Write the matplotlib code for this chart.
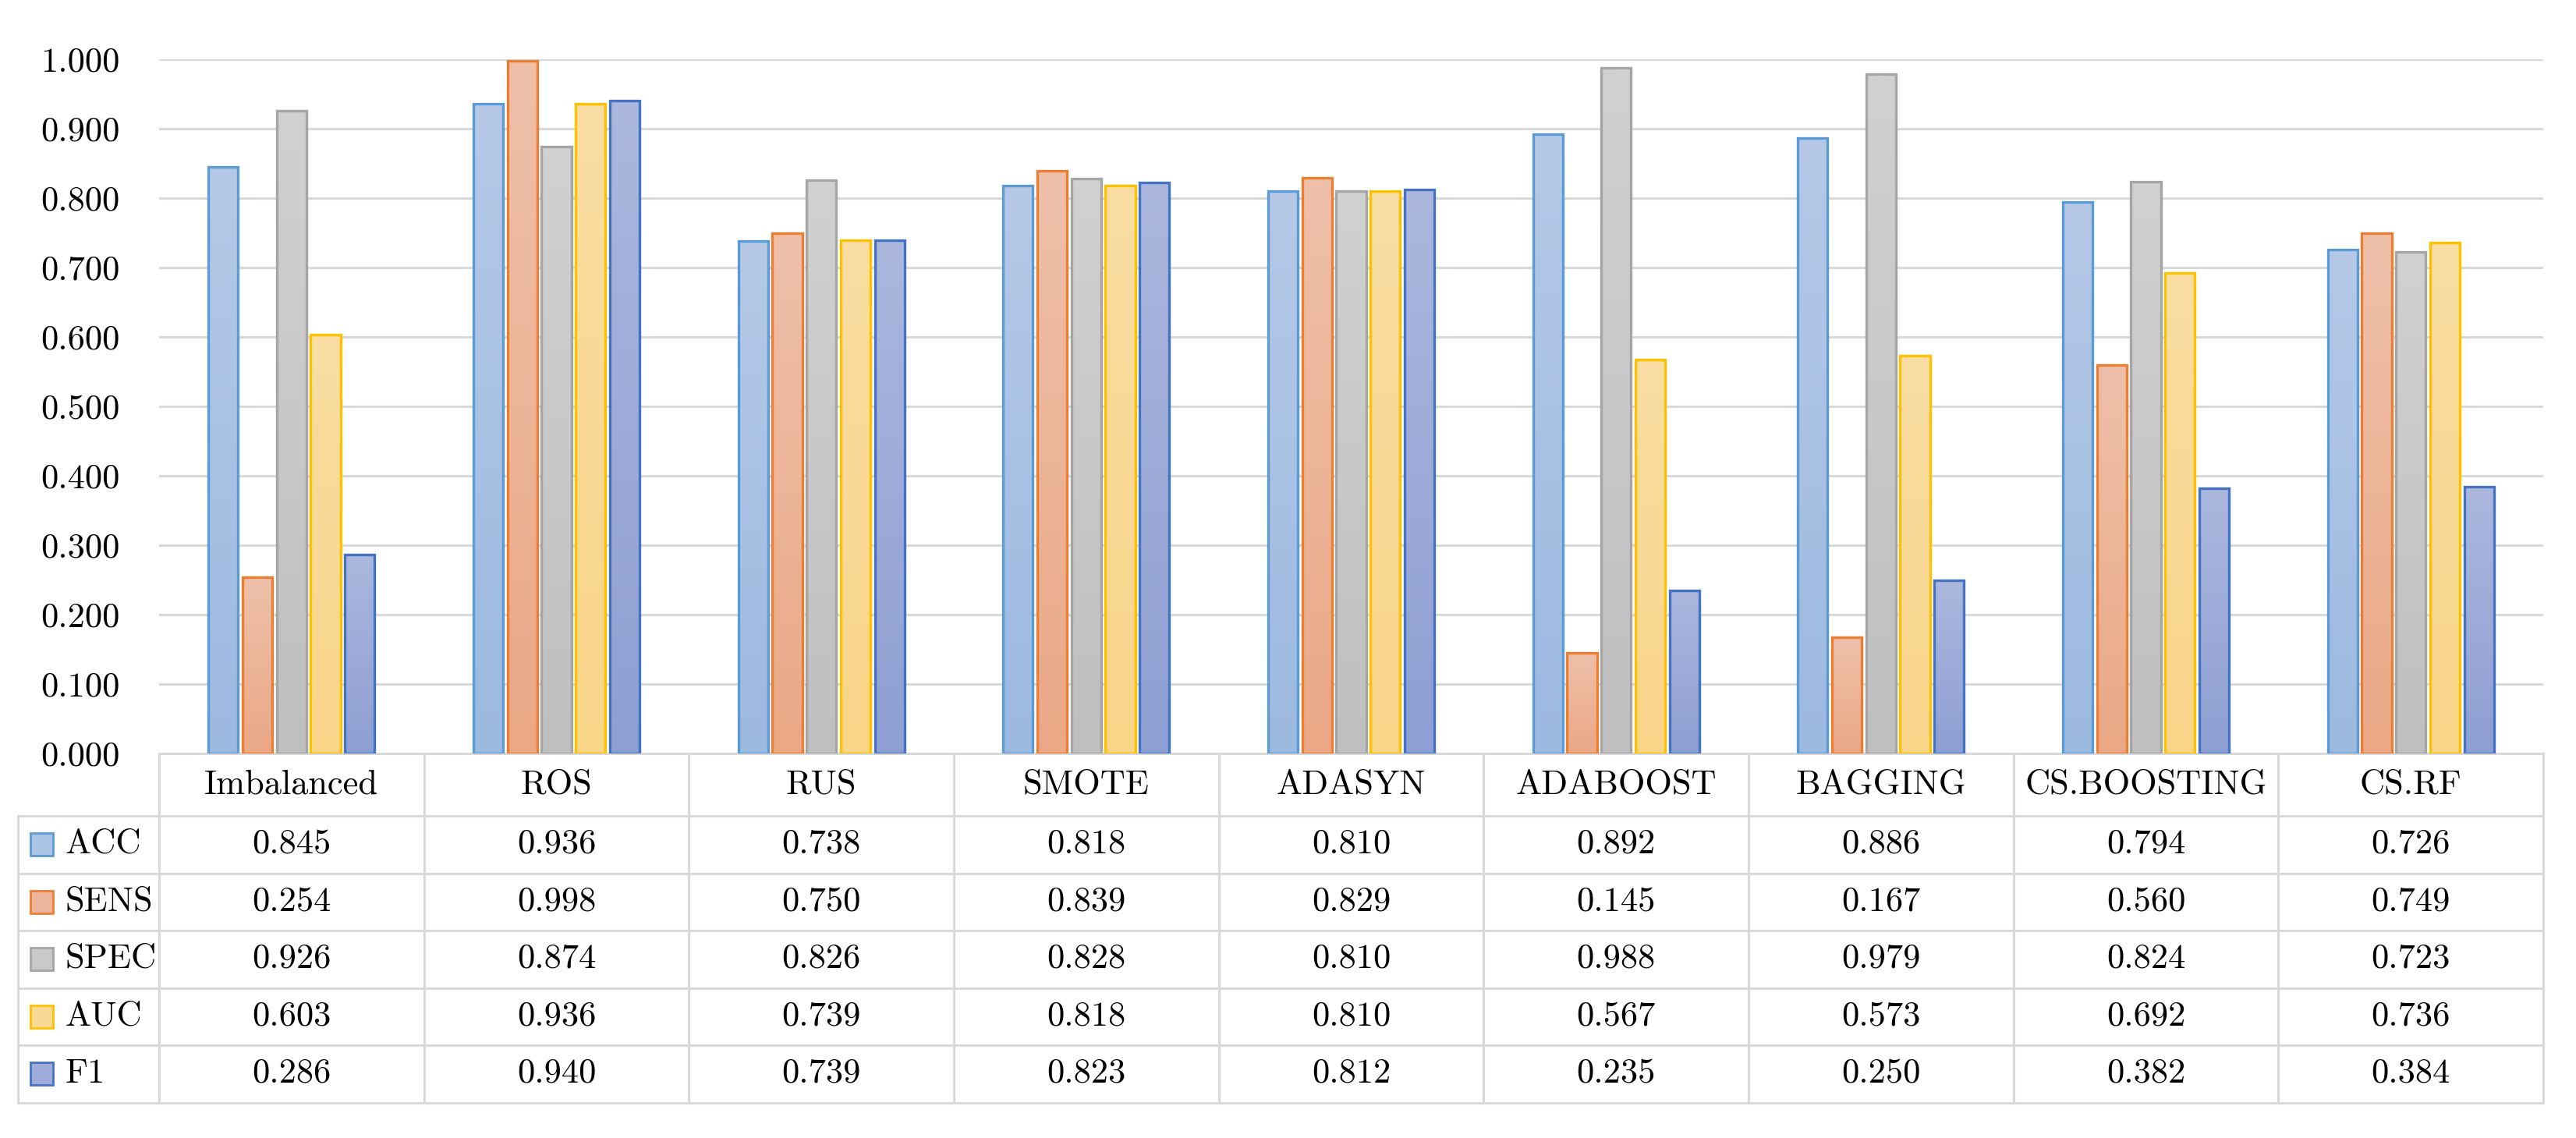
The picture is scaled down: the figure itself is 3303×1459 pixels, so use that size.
import matplotlib
matplotlib.use("Agg")
import matplotlib.pyplot as plt
import numpy as np
from matplotlib.ticker import FormatStrFormatter, MultipleLocator
from matplotlib.patches import Rectangle
from matplotlib.lines import Line2D
from matplotlib.colors import to_rgb

plt.rcParams['font.family'] = ['cmr10', 'DejaVu Serif']
plt.rcParams['axes.formatter.use_mathtext'] = True

categories = ["Imbalanced", "ROS", "RUS", "SMOTE", "ADASYN", "ADABOOST", "BAGGING", "CS.BOOSTING", "CS.RF"]
metrics = ["ACC", "SENS", "SPEC", "AUC", "F1"]
acc  = [0.845, 0.936, 0.738, 0.818, 0.810, 0.892, 0.886, 0.794, 0.726]
sens = [0.254, 0.998, 0.750, 0.839, 0.829, 0.145, 0.167, 0.560, 0.749]
spec = [0.926, 0.874, 0.826, 0.828, 0.810, 0.988, 0.979, 0.824, 0.723]
auc  = [0.603, 0.936, 0.739, 0.818, 0.810, 0.567, 0.573, 0.692, 0.736]
f1   = [0.286, 0.940, 0.739, 0.823, 0.812, 0.235, 0.250, 0.382, 0.384]
series = [acc, sens, spec, auc, f1]

fill_top = ["#b5c9e7", "#eec0aa", "#d1d1d1", "#f9dda2", "#abb7dd"]
fill_bot = ["#9cb9e0", "#eaa886", "#bfbfbf", "#f8d589", "#8e9fd3"]
fills    = ["#aac2e4", "#ecb49a", "#c9c9c9", "#f9d996", "#9eacd9"]
edges    = ["#5b9bd5", "#ed7d31", "#a5a5a5", "#ffc000", "#4472c4"]
gridc = "#d9d9d9"

W, H = 3303, 1459
fig = plt.figure(figsize=(W/100, H/100), dpi=100)
ax_left, ax_right = 204/W, 3261/W
ax_top, ax_bot = 1 - 76/H, 1 - 966/H
ax = fig.add_axes([ax_left, ax_bot, ax_right-ax_left, ax_top-ax_bot])

x = np.arange(len(categories))
step = 0.1286
bw = 0.112
for i, (vals, ec) in enumerate(zip(series, edges)):
    bars = ax.bar(x + (i-2)*step, vals, width=bw, facecolor='none', edgecolor=ec,
                  linewidth=2.4, zorder=4)
    top = np.array(to_rgb(fill_top[i])); bot = np.array(to_rgb(fill_bot[i]))
    grad = np.linspace(0, 1, 64)[:, None, None]
    img = top * (1 - grad) + bot * grad
    for b in bars:
        x0, w_, h_ = b.get_x(), b.get_width(), b.get_height()
        im = ax.imshow(img, extent=(x0, x0 + w_, 0, h_), origin='upper', aspect='auto',
                       interpolation='bilinear', zorder=3)
        im.set_clip_path(b)

ax.set_xlim(-0.5, len(categories)-0.5)
ax.set_ylim(0, 1.0)
ax.set_aspect('auto')
ax.yaxis.set_major_locator(MultipleLocator(0.1))
ax.yaxis.set_major_formatter(FormatStrFormatter('%.3f'))
ax.grid(axis='y', color=gridc, linewidth=2.2, zorder=0)
ax.set_axisbelow(True)
for s in ax.spines.values():
    s.set_visible(False)
ax.tick_params(axis='y', length=0, pad=36, labelsize=32)
ax.tick_params(axis='x', length=0, labelbottom=False)

# Data table
trans = ax.get_xaxis_transform()
fs = 32
axh = 890.0
hdr = 80/axh
rowh = 73.5/axh
ybot = -hdr - 5*rowh
cw = (3261-204)/9.0
leg_left = -0.5 - (204-23)/cw
lw = 2.2

def line(xs, ys):
    ax.add_line(Line2D(xs, ys, transform=trans, color=gridc, linewidth=lw, clip_on=False, zorder=1))

line([-0.5, len(categories)-0.5], [0, 0])
line([leg_left, len(categories)-0.5], [-hdr, -hdr])
for r in range(1, 6):
    yy = -hdr - r*rowh
    line([leg_left, len(categories)-0.5], [yy, yy])
for b in range(len(categories)+1):
    line([b-0.5, b-0.5], [0, ybot])
line([leg_left, leg_left], [-hdr, ybot])

for j, c in enumerate(categories):
    ax.text(j, -hdr/2, c, transform=trans, ha='center', va='center', fontsize=fs)
for r, (m, vals, fc, ec) in enumerate(zip(metrics, series, fills, edges)):
    yc = -hdr - (r+0.5)*rowh
    for j, v in enumerate(vals):
        ax.text(j, yc, f"{v:.3f}", transform=trans, ha='center', va='center', fontsize=fs)
    sq_x0 = -0.5 - (204-39)/cw
    sq_w = 29/cw
    sq_h = 29/axh
    ax.add_patch(Rectangle((sq_x0, yc - sq_h/2), sq_w, sq_h, transform=trans,
                           facecolor=fc, edgecolor=ec, linewidth=2, clip_on=False))
    ax.text(-0.5 - (204-84)/cw, yc, m, transform=trans, ha='left', va='center', fontsize=fs)

fig.savefig("out.png", dpi=100, facecolor='white')
